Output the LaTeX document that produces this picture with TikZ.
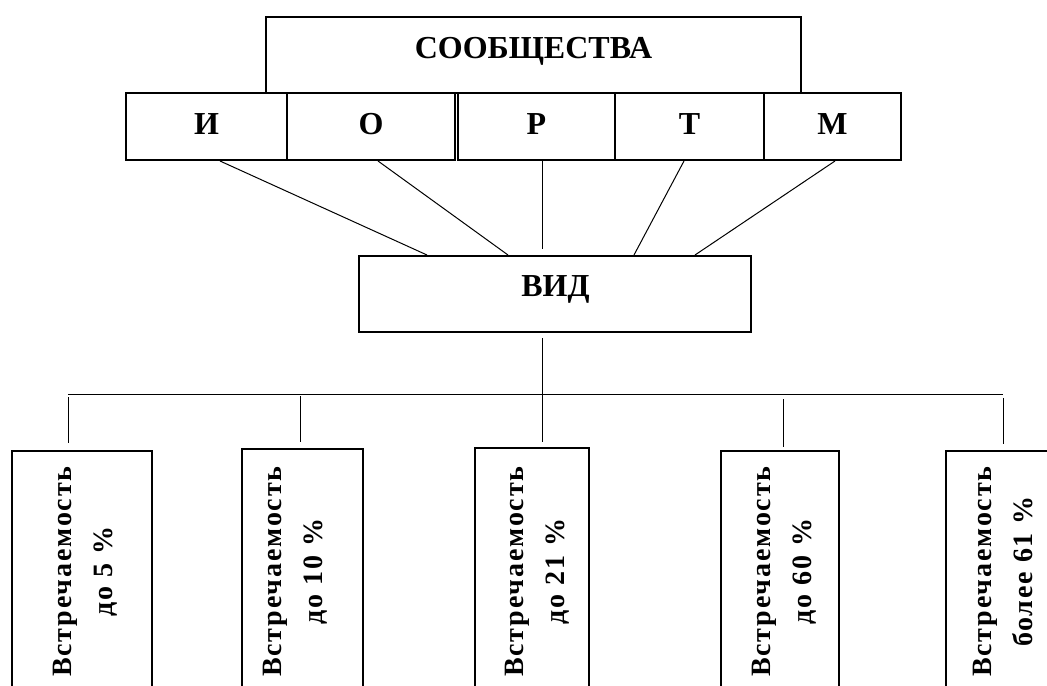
\documentclass[tikz,border=0pt]{standalone}
\usepackage{fontspec}
\setmainfont{Liberation Serif}
\newfontfamily\spaced[LetterSpace=6.5]{Liberation Serif Bold}
\def\px{0.75pt}
\tikzset{
  box/.style={draw, line width=1.5pt, inner sep=0pt},
  lbl/.style={font=\fontsize{24}{28}\selectfont\bfseries, anchor=base, inner sep=0pt},
  link/.style={line width=0.75pt},
  freq/.style={font=\fontsize{21}{31}\selectfont\spaced, rotate=90, align=center, anchor=north west, inner sep=0pt}
}
\begin{document}
\begin{tikzpicture}[x=0.75pt, y=-0.75pt]
\useasboundingbox (0,0) rectangle (1047,686);
\clip (0,0) rectangle (1047,686);

% top boxes
\node[box, minimum width=535*\px, minimum height=76*\px] (soob) at (533.5,55) {};
\node[lbl] (soob-t) at (533.5,58) {СООБЩЕСТВА};

\node[box, minimum width=161*\px, minimum height=67*\px] (i) at (206.5,126.5) {};
\node[box, minimum width=168*\px, minimum height=67*\px] (o) at (371,126.5) {};
\node[box, minimum width=157*\px, minimum height=67*\px] (r) at (536.5,126.5) {};
\node[box, minimum width=149*\px, minimum height=67*\px] (t) at (689.5,126.5) {};
\node[box, minimum width=137*\px, minimum height=67*\px] (m) at (832.5,126.5) {};
\node[lbl] (i-t) at (206.5,134) {И};
\node[lbl] (o-t) at (371,134) {О};
\node[lbl] (r-t) at (536.5,134) {Р};
\node[lbl] (t-t) at (689.5,134) {Т};
\node[lbl] (m-t) at (832.5,134) {М};

% vid
\node[box, minimum width=392*\px, minimum height=76*\px] (vid) at (555,294) {};
\node[lbl] (vid-t) at (555.5,296) {ВИД};

\draw[link] ([xshift=13.5*\px]i.south) -- ([xshift=-128*\px]vid.north);
\draw[link] ([xshift=7*\px]o.south) -- ([xshift=-47*\px]vid.north);
\coordinate (r-end) at (542,249);
\draw[link] ([xshift=5.5*\px]r.south) -- (r-end);
\draw[link] ([xshift=-5.5*\px]t.south) -- ([xshift=79*\px]vid.north);
\draw[link] ([xshift=2.5*\px]m.south) -- ([xshift=140*\px]vid.north);

% lower tree
\coordinate (stem-a) at (542,338);
\coordinate (stem-b) at (542,442);
\draw[link] (stem-a) -- (stem-b);
\draw[link] (68,394) -- (1003,394);
\foreach \x/\a/\b in {68/397/443, 300/396/442, 783/399/447, 1003/398/444}
  \draw[link] (\x,\a) -- (\x,\b);

% frequency boxes
\node[box, minimum width=140*\px, minimum height=269*\px] (b1) at (82,585.5) {};
\node[box, minimum width=121*\px, minimum height=271*\px] (b2) at (302.5,584.5) {};
\node[box, minimum width=114*\px, minimum height=272*\px] (b3) at (532,584) {};
\node[box, minimum width=118*\px, minimum height=269*\px] (b4) at (780,585.5) {};
\node[box, minimum width=124*\px, minimum height=269*\px] (b5) at (1008,585.5) {};

\node[freq] (b1-t) at (53,677) {Встречаемость\\до 5 \%};
\node[freq] (b2-t) at (263,677) {Встречаемость\\до 10 \%};
\node[freq] (b3-t) at (505,677) {Встречаемость\\до 21 \%};
\node[freq] (b4-t) at (752,677) {Встречаемость\\до 60 \%};
\node[freq] (b5-t) at (973,677) {Встречаемость\\более 61 \%};

\end{tikzpicture}
\end{document}
